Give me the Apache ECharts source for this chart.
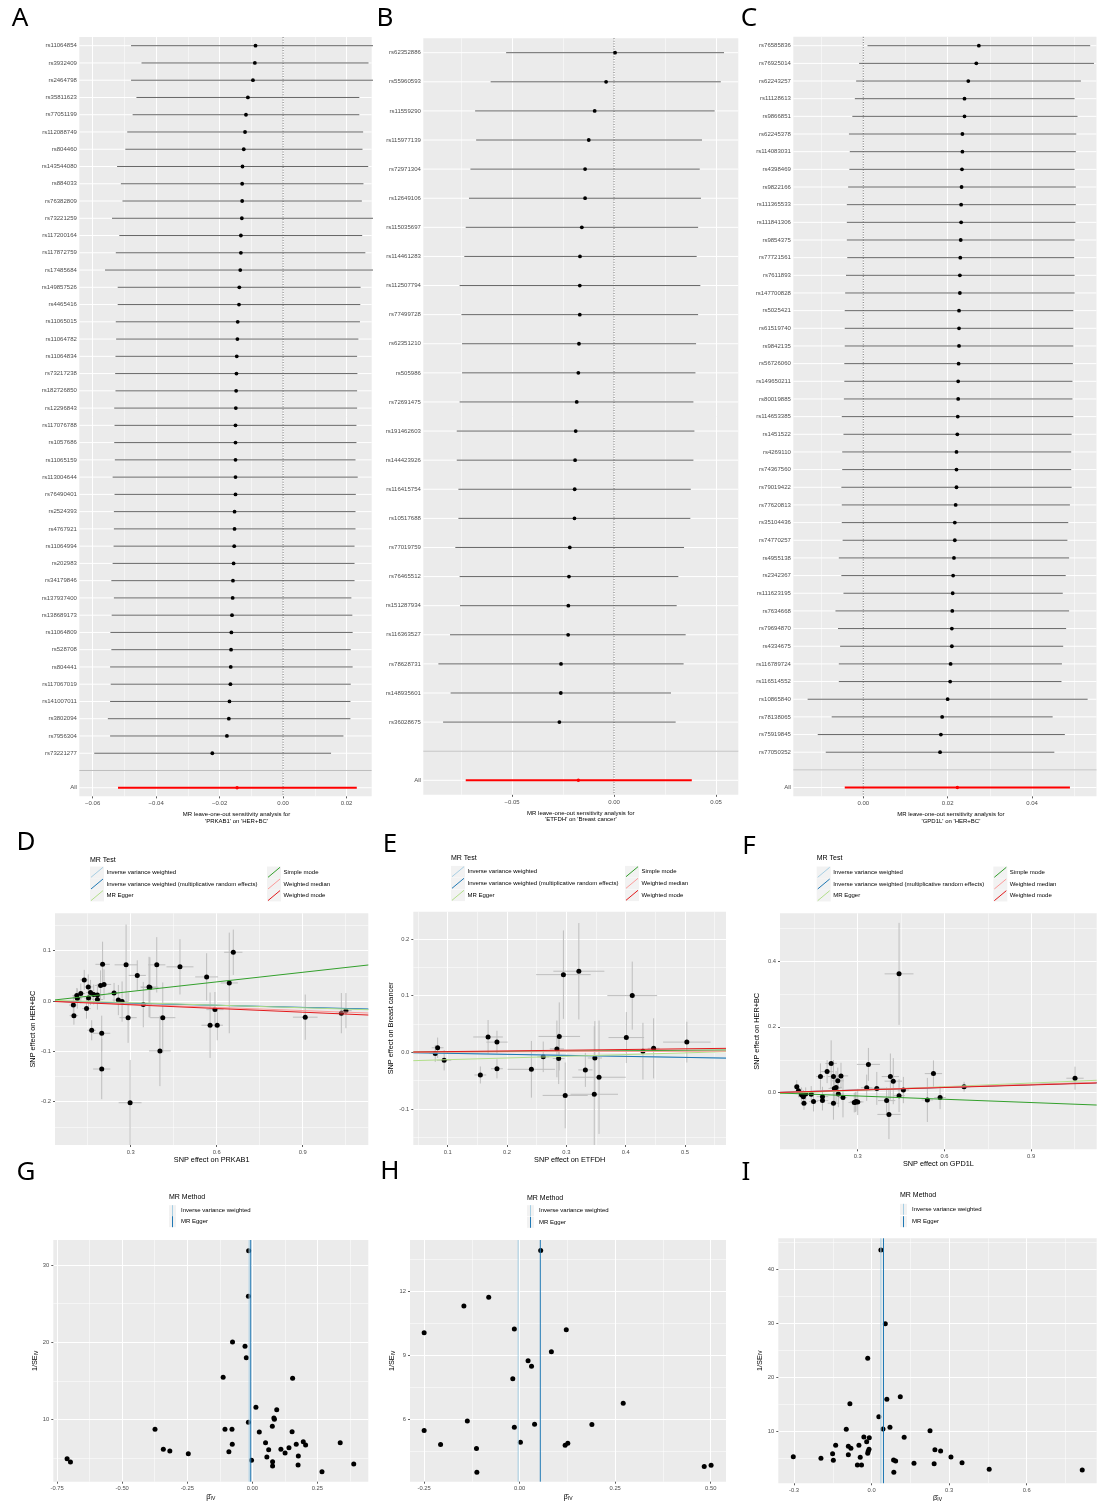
<!DOCTYPE html>
<html><head><meta charset="utf-8">
<script src="https://cdn.jsdelivr.net/npm/echarts@6/dist/echarts.min.js"></script>
<style>html,body{margin:0;padding:0;background:#fff}#c{width:1097px;height:1501px}</style>
</head><body><div id="c"></div>
<script>
// ---------------- DATA ----------------
const A_snps = ['rs11064854','rs3932409','rs2464798','rs35811623','rs77051199','rs112088749','rs804460','rs143544080','rs884033','rs76382809','rs73221259','rs117200164','rs117872759','rs17485684','rs149857526','rs4465416','rs11065015','rs11064782','rs11064834','rs73217238','rs182726850','rs12296843','rs117076788','rs1057686','rs11065159','rs113004644','rs76490401','rs2524393','rs4767921','rs11064994','rs202983','rs34179846','rs137937400','rs138689173','rs11064809','rs528708','rs804441','rs117067019','rs141007011','rs3802094','rs7956304','rs73221277'];
const A_b  = [-0.0087,-0.0089,-0.0095,-0.0111,-0.0117,-0.0120,-0.0124,-0.0128,-0.0129,-0.0129,-0.0130,-0.0133,-0.0133,-0.0135,-0.0138,-0.0139,-0.0143,-0.0144,-0.0146,-0.0147,-0.0148,-0.0149,-0.0150,-0.0150,-0.0150,-0.0150,-0.0150,-0.0153,-0.0153,-0.0154,-0.0156,-0.0158,-0.0159,-0.0161,-0.0163,-0.0164,-0.0165,-0.0166,-0.0169,-0.0171,-0.0177,-0.0223];
const A_lo = [-0.0479,-0.0446,-0.0479,-0.0462,-0.0474,-0.0491,-0.0497,-0.0523,-0.0511,-0.0506,-0.0539,-0.0516,-0.0527,-0.0561,-0.0521,-0.0521,-0.0527,-0.0526,-0.0528,-0.0529,-0.0528,-0.0532,-0.0531,-0.0532,-0.0530,-0.0537,-0.0531,-0.0533,-0.0533,-0.0534,-0.0537,-0.0541,-0.0533,-0.0540,-0.0544,-0.0541,-0.0545,-0.0543,-0.0545,-0.0552,-0.0545,-0.0595];
const A_up = [0.0290,0.0269,0.0290,0.0240,0.0240,0.0252,0.0250,0.0268,0.0253,0.0248,0.0290,0.0249,0.0259,0.0295,0.0244,0.0243,0.0242,0.0237,0.0233,0.0234,0.0233,0.0233,0.0231,0.0231,0.0228,0.0235,0.0229,0.0228,0.0228,0.0225,0.0225,0.0225,0.0215,0.0218,0.0219,0.0213,0.0219,0.0213,0.0212,0.0212,0.0190,0.0151];
const A_all = [-0.0145,-0.0520,0.0232];
const A_xticks = [-0.06,-0.04,-0.02,0,0.02];

const B_snps = ['rs62352886','rs55960593','rs11559290','rs115977139','rs72971304','rs12649106','rs115035697','rs114461283','rs112507794','rs77499728','rs62351210','rs505986','rs72691475','rs191462603','rs144423926','rs116415754','rs10517688','rs77019759','rs76465512','rs151287934','rs116363527','rs78628731','rs148935601','rs36028675'];
const B_b  = [0.0005,-0.0039,-0.0095,-0.0124,-0.0142,-0.0142,-0.0158,-0.0167,-0.0168,-0.0168,-0.0172,-0.0175,-0.0183,-0.0188,-0.0191,-0.0193,-0.0194,-0.0217,-0.0221,-0.0224,-0.0225,-0.0260,-0.0261,-0.0268];
const B_lo = [-0.0529,-0.0605,-0.0681,-0.0676,-0.0704,-0.0711,-0.0727,-0.0734,-0.0757,-0.0748,-0.0745,-0.0745,-0.0757,-0.0771,-0.0771,-0.0763,-0.0763,-0.0778,-0.0757,-0.0755,-0.0804,-0.0861,-0.0801,-0.0838];
const B_up = [0.0539,0.0523,0.0493,0.0431,0.0420,0.0426,0.0412,0.0405,0.0423,0.0412,0.0402,0.0399,0.0389,0.0394,0.0389,0.0376,0.0374,0.0343,0.0315,0.0307,0.0351,0.0341,0.0279,0.0302];
const B_all = [-0.0175,-0.0727,0.0381];
const B_xticks = [-0.05,0,0.05];

const C_snps = ['rs76585836','rs76925014','rs62243257','rs11128613','rs9866851','rs62245378','rs114083031','rs4398469','rs9822166','rs111365533','rs111841306','rs9854375','rs77721561','rs7611893','rs147700828','rs5025421','rs61519740','rs9842135','rs56726060','rs149650211','rs80019885','rs114653385','rs1451522','rs4269110','rs74367560','rs79019422','rs77620813','rs35104436','rs74770257','rs4955138','rs2342367','rs111623195','rs7634668','rs79694870','rs4334675','rs116789724','rs116514552','rs10865840','rs78138065','rs75919845','rs77050352'];
const C_b  = [0.0274,0.0268,0.0249,0.0240,0.0240,0.0235,0.0235,0.0234,0.0233,0.0232,0.0232,0.0231,0.0230,0.0229,0.0229,0.0227,0.0227,0.0227,0.0226,0.0225,0.0225,0.0224,0.0223,0.0221,0.0221,0.0221,0.0219,0.0217,0.0217,0.0215,0.0213,0.0212,0.0211,0.0210,0.0210,0.0207,0.0206,0.0200,0.0187,0.0184,0.0182];
const C_lo = [0.0010,-0.0010,-0.0017,-0.0020,-0.0026,-0.0034,-0.0032,-0.0033,-0.0036,-0.0039,-0.0039,-0.0039,-0.0038,-0.0041,-0.0043,-0.0044,-0.0044,-0.0044,-0.0045,-0.0045,-0.0046,-0.0051,-0.0047,-0.0050,-0.0050,-0.0052,-0.0051,-0.0051,-0.0049,-0.0058,-0.0052,-0.0047,-0.0066,-0.0060,-0.0055,-0.0058,-0.0058,-0.0132,-0.0075,-0.0108,-0.0089];
const C_up = [0.0538,0.0547,0.0516,0.0501,0.0508,0.0505,0.0504,0.0501,0.0504,0.0504,0.0503,0.0501,0.0500,0.0501,0.0501,0.0498,0.0498,0.0498,0.0497,0.0496,0.0496,0.0498,0.0494,0.0493,0.0493,0.0494,0.0490,0.0486,0.0484,0.0488,0.0480,0.0473,0.0488,0.0481,0.0474,0.0471,0.0470,0.0532,0.0449,0.0478,0.0453];
const C_all = [0.0223,-0.0044,0.0490];
const C_xticks = [0,0.02,0.04];

const METHODS = ['Inverse variance weighted','Inverse variance weighted (multiplicative random effects)','MR Egger','Simple mode','Weighted median','Weighted mode'];
const METHOD_COLORS = ['#A6CEE3','#1F78B4','#B2DF8A','#33A02C','#FB9A99','#E31A1C'];

const D_bx = [0.100,0.102,0.112,0.114,0.126,0.138,0.146,0.152,0.153,0.160,0.164,0.171,0.184,0.184,0.195,0.199,0.199,0.202,0.207,0.242,0.257,0.270,0.284,0.291,0.298,0.323,0.344,0.364,0.367,0.391,0.402,0.412,0.472,0.565,0.577,0.594,0.602,0.644,0.658,0.909,1.035,1.051];
const D_by = [-0.008,-0.029,0.011,0.005,0.015,0.042,-0.015,0.028,0.006,0.017,-0.058,0.013,0.012,0.003,0.031,-0.064,-0.135,0.073,0.033,0.016,0.002,-0.001,0.072,-0.033,-0.202,0.051,-0.007,0.028,0.027,0.072,-0.099,-0.033,0.068,0.048,-0.048,-0.017,-0.048,0.036,0.097,-0.032,-0.024,-0.019];
const D_sx = [0.015,0.015,0.015,0.015,0.015,0.015,0.015,0.015,0.015,0.015,0.015,0.015,0.02,0.02,0.02,0.03,0.03,0.025,0.025,0.02,0.02,0.02,0.04,0.03,0.04,0.03,0.03,0.03,0.03,0.03,0.038,0.044,0.047,0.04,0.03,0.03,0.02,0.03,0.032,0.043,0.02,0.02];
const D_sy = [0.02,0.018,0.015,0.02,0.02,0.02,0.02,0.025,0.02,0.025,0.02,0.02,0.02,0.02,0.03,0.035,0.06,0.045,0.03,0.02,0.03,0.04,0.08,0.05,0.085,0.03,0.045,0.06,0.06,0.055,0.07,0.07,0.055,0.047,0.065,0.035,0.03,0.1,0.045,0.045,0.04,0.035];
const D_int = [0,0,0.002,0,0,0];
const D_slope = [-0.014,-0.014,-0.017,0.0635,-0.021,-0.0246];
const D_xticks = [0.3,0.6,0.9], D_yticks = [-0.2,-0.1,0,0.1];

const E_bx = [0.079,0.083,0.094,0.155,0.168,0.183,0.183,0.241,0.261,0.284,0.287,0.288,0.295,0.298,0.321,0.332,0.347,0.348,0.355,0.401,0.411,0.429,0.447,0.503];
const E_by = [-0.002,0.008,-0.014,-0.040,0.027,0.018,-0.029,-0.030,-0.008,0.006,-0.011,0.028,0.137,-0.076,0.143,-0.031,-0.074,-0.010,-0.044,0.026,0.100,0.002,0.007,0.018];
const E_sx = [0.01,0.01,0.012,0.01,0.025,0.018,0.01,0.04,0.01,0.012,0.01,0.035,0.046,0.038,0.043,0.012,0.04,0.012,0.045,0.03,0.042,0.01,0.01,0.04];
const E_sy = [0.015,0.018,0.018,0.015,0.03,0.02,0.017,0.05,0.027,0.05,0.045,0.06,0.078,0.058,0.085,0.03,0.12,0.065,0.1,0.045,0.06,0.05,0.053,0.036];
const E_int = [0,0,-0.016,0,0,0];
const E_slope = [-0.018,-0.018,0.03,0.007,0.0035,0.0123];
const E_xticks = [0.1,0.2,0.3,0.4,0.5], E_yticks = [-0.1,0,0.1,0.2];

const F_bx = [0.089,0.095,0.105,0.106,0.112,0.114,0.120,0.139,0.147,0.171,0.178,0.178,0.194,0.208,0.216,0.216,0.219,0.225,0.231,0.233,0.242,0.249,0.288,0.292,0.294,0.300,0.331,0.337,0.366,0.400,0.408,0.413,0.423,0.443,0.443,0.458,0.541,0.562,0.585,0.668,1.052];
const F_by = [0.018,0.006,-0.004,-0.007,-0.012,-0.032,-0.004,-0.005,-0.027,0.049,-0.012,-0.024,0.064,0.089,0.049,-0.032,0.013,0.016,0.036,-0.004,0.051,-0.015,-0.030,-0.029,-0.027,-0.028,0.015,0.086,0.013,-0.024,-0.066,0.049,0.035,0.361,-0.009,0.008,-0.022,0.058,-0.015,0.018,0.044];
const F_sx = [0.01,0.01,0.01,0.01,0.01,0.012,0.01,0.012,0.015,0.015,0.02,0.02,0.02,0.02,0.02,0.02,0.02,0.02,0.02,0.02,0.025,0.015,0.02,0.02,0.02,0.02,0.02,0.04,0.03,0.03,0.04,0.03,0.03,0.05,0.02,0.02,0.02,0.03,0.02,0.01,0.03];
const F_sy = [0.02,0.02,0.02,0.02,0.02,0.02,0.02,0.025,0.03,0.04,0.03,0.03,0.035,0.07,0.05,0.05,0.04,0.05,0.04,0.04,0.04,0.06,0.03,0.03,0.03,0.04,0.04,0.05,0.05,0.04,0.075,0.07,0.07,0.155,0.05,0.04,0.067,0.04,0.035,0.015,0.035];
const F_int = [0,0,-0.004,0,0,0];
const F_slope = [0.027,0.027,0.037,-0.0333,0.028,0.026];
const F_xticks = [0.3,0.6,0.9], F_yticks = [0,0.2,0.4];

const FUN_METHODS = ['Inverse variance weighted','MR Egger'];
const FUN_COLORS = ['#A6CEE3','#1F78B4'];
const G_b = [-0.712,-0.699,-0.374,-0.342,-0.317,-0.246,-0.112,-0.105,-0.090,-0.078,-0.077,-0.076,-0.028,-0.023,-0.015,-0.014,-0.015,-0.003,0.014,0.027,0.051,0.056,0.063,0.077,0.078,0.078,0.083,0.085,0.094,0.110,0.126,0.141,0.153,0.155,0.169,0.176,0.177,0.196,0.205,0.268,0.338,0.390];
const G_inv = [4.96,4.53,8.75,6.16,5.95,5.60,15.47,8.75,5.86,8.75,6.81,20.04,19.48,18.02,9.66,31.85,25.95,4.74,11.59,8.41,7.03,5.17,6.12,9.14,4.00,4.57,10.22,10.04,11.29,6.16,5.69,6.38,8.45,15.34,6.81,4.14,5.30,7.16,6.72,3.28,7.03,4.27];
const G_vline = [-0.012,-0.006];
const G_xticks = [-0.75,-0.5,-0.25,0,0.25], G_yticks = [10,20,30];

const H_b = [-0.250,-0.250,-0.207,-0.146,-0.137,-0.113,-0.112,-0.081,-0.018,-0.014,-0.014,0.002,0.022,0.031,0.039,0.055,0.083,0.119,0.126,0.122,0.189,0.271,0.483,0.501];
const H_inv = [10.04,5.47,4.82,11.30,5.92,4.63,3.52,11.70,7.89,10.22,5.63,4.92,8.74,8.48,5.77,13.89,9.16,4.78,4.88,10.18,5.75,6.75,3.79,3.85];
const H_vline = [-0.004,0.054];
const H_xticks = [-0.25,0,0.25,0.5], H_yticks = [6,9,12];

const I_b = [-0.303,-0.196,-0.151,-0.148,-0.139,-0.098,-0.090,-0.090,-0.084,-0.080,-0.055,-0.049,-0.044,-0.039,-0.030,-0.019,-0.015,-0.015,-0.013,-0.010,-0.009,0.028,0.036,0.044,0.053,0.059,0.071,0.085,0.093,0.086,0.111,0.126,0.164,0.226,0.242,0.245,0.267,0.307,0.350,0.455,0.815];
const I_inv = [5.24,4.93,5.79,4.56,7.34,10.31,7.16,5.61,15.07,6.78,3.69,7.34,5.11,3.69,8.89,8.02,5.86,23.48,6.23,6.60,8.76,12.66,43.58,10.37,29.91,15.88,10.68,4.62,4.43,2.33,16.37,8.82,4.00,10.06,3.94,6.54,6.29,5.18,4.12,2.89,2.76];
const I_vline = [0.036,0.046];
const I_xticks = [-0.3,0,0.3,0.6], I_yticks = [10,20,30,40];

const REF_X = 0;

// ---------------- BUILD ----------------
const FONT = '"Liberation Sans", Arial, sans-serif';
const grids = [], xAxes = [], yAxes = [], series = [], graphics = [];

function addGrid(r) {
  grids.push({left: r[0], top: r[1], width: r[2] - r[0], height: r[3] - r[1], show: true,
    backgroundColor: '#EBEBEB', borderWidth: 0, containLabel: false, outerBoundsMode: 'none'});
  return grids.length - 1;
}
function fmtTick(ticks, dec, minus) {
  return function (v) {
    const t = ticks.find(t => Math.abs(t - v) < 1e-9);
    if (t === undefined) return '';
    return (t < -1e-12 ? minus : '') + Math.abs(t).toFixed(dec);
  };
}
function valAxis(gi, min, max, iv, ticks, dec, minus, fs, extra) {
  return Object.assign({
    type: 'value', gridIndex: gi, min: min, max: max, minInterval: iv, maxInterval: iv,
    axisLine: {show: false, onZero: false},
    axisTick: {show: true, length: 2, lineStyle: {color: '#333', width: 0.8}, customValues: ticks},
    axisLabel: {customValues: ticks, fontSize: fs, color: '#4D4D4D', margin: 4, fontFamily: FONT,
      formatter: fmtTick(ticks, dec, minus)},
    splitLine: {show: true, lineStyle: {color: '#FFFFFF', width: 1}},
    minorTick: {show: false, splitNumber: 2},
    minorSplitLine: {show: true, lineStyle: {color: '#FFFFFF', width: 0.5}}
  }, extra || {});
}
function txt(x, y, text, size, color, align, family, rot) {
  return {type: 'text', x: x, y: y, rotation: rot || 0, silent: true,
    style: {text: text, fontSize: size, fontFamily: family || FONT, fill: color, align: align, verticalAlign: 'middle'}};
}

function forestRender(params, api) {
  const b = api.value(0), r = api.value(1), lo = api.value(2), up = api.value(3), flag = api.value(4);
  const pc = api.coord([b, r]), pl = api.coord([lo, r]), pu = api.coord([up, r]);
  const red = flag === 1;
  return {type: 'group', children: [
    {type: 'line', shape: {x1: pl[0], y1: pc[1], x2: pu[0], y2: pc[1]},
      style: {stroke: red ? '#FF0000' : '#555555', lineWidth: red ? 2 : 0.9}},
    {type: 'circle', shape: {cx: pc[0], cy: pc[1], r: red ? 1.7 : 1.9}, style: {fill: red ? '#FF0000' : '#000000'}}
  ]};
}

function forest(rect, snps, b, lo, up, all, xr, iv, ticks, title, shift, gap) {
  const gi = addGrid(rect);
  const cats = snps.concat(['', 'All']);
  xAxes.push(valAxis(gi, xr[0], xr[1], iv, ticks, 2, '\u2212', 6, {
    name: title, nameLocation: 'middle', nameGap: gap,
    nameTextStyle: {fontSize: 6, color: '#000', fontFamily: FONT, lineHeight: 6.5, padding: [0, 0, 0, shift]}
  }));
  yAxes.push({type: 'category', gridIndex: gi, data: cats, inverse: true,
    axisLine: {show: false, onZero: false}, axisTick: {show: false}, splitLine: {show: false},
    axisLabel: {interval: 0, fontSize: 6, color: '#4D4D4D', margin: 2.5, fontFamily: FONT}});
  const ax = xAxes.length - 1;
  // horizontal major gridlines at each row
  series.push({type: 'custom', xAxisIndex: ax, yAxisIndex: ax, z: 1, silent: true, clip: true,
    data: cats.map((c, i) => [REF_X, i]), encode: {x: 0, y: 1},
    renderItem: function (p, api) {
      const cs = p.coordSys; const y = api.coord([api.value(0), api.value(1)])[1];
      return {type: 'line', shape: {x1: cs.x, y1: y, x2: cs.x + cs.width, y2: y}, style: {stroke: '#FFFFFF', lineWidth: 1}};
    }});
  // dotted zero line
  series.push({type: 'custom', xAxisIndex: ax, yAxisIndex: ax, z: 2, silent: true,
    data: [[REF_X, 0]], encode: {x: 0, y: 1},
    renderItem: function (p, api) {
      const cs = p.coordSys; const x = api.coord([api.value(0), 0])[0];
      return {type: 'line', shape: {x1: x, y1: cs.y, x2: x, y2: cs.y + cs.height},
        style: {stroke: '#444', lineWidth: 0.8, lineDash: [1, 1.6]}};
    }});
  // error bars + points
  const rows = snps.map((s, i) => [b[i], i, lo[i], up[i], 0]);
  rows.push([all[0], snps.length + 1, all[1], all[2], 1]);
  series.push({type: 'custom', xAxisIndex: ax, yAxisIndex: ax, z: 3, silent: true, clip: true,
    data: rows, encode: {x: [0, 2, 3], y: 1}, renderItem: forestRender});
  // grey separator at blank row
  series.push({type: 'custom', xAxisIndex: ax, yAxisIndex: ax, z: 4, silent: true,
    data: [[REF_X, snps.length]], encode: {x: 0, y: 1},
    renderItem: function (p, api) {
      const cs = p.coordSys; const y = api.coord([api.value(0), api.value(1)])[1];
      return {type: 'line', shape: {x1: cs.x, y1: y, x2: cs.x + cs.width, y2: y}, style: {stroke: '#BEBEBE', lineWidth: 1}};
    }});
}

function errRender(params, api) {
  const x = api.value(0), y = api.value(1), sx = api.value(2), sy = api.value(3);
  const a = api.coord([x, y - sy]), b = api.coord([x, y + sy]), c = api.coord([x - sx, y]), d = api.coord([x + sx, y]);
  return {type: 'group', children: [
    {type: 'line', shape: {x1: a[0], y1: a[1], x2: b[0], y2: b[1]}, style: {stroke: '#BEBEBE', lineWidth: 1}},
    {type: 'line', shape: {x1: c[0], y1: c[1], x2: d[0], y2: d[1]}, style: {stroke: '#BEBEBE', lineWidth: 1}}
  ]};
}

function scatterPanel(rect, bx, by, sx, sy, ints, slopes, xr, yr, xiv, yiv, xt, yt, xname, yname, xgap, ygap) {
  const gi = addGrid(rect);
  xAxes.push(valAxis(gi, xr[0], xr[1], xiv, xt, 1, '-', 5.8, {
    name: xname, nameLocation: 'middle', nameGap: xgap,
    nameTextStyle: {fontSize: 7.3, color: '#000', fontFamily: FONT}}));
  yAxes.push(valAxis(gi, yr[0], yr[1], yiv, yt, 1, '-', 5.8, {
    name: yname, nameLocation: 'middle', nameGap: ygap,
    nameTextStyle: {fontSize: 7.3, color: '#000', fontFamily: FONT}}));
  const ax = xAxes.length - 1;
  series.push({type: 'custom', xAxisIndex: ax, yAxisIndex: ax, z: 2, silent: true, clip: true,
    data: bx.map((x, i) => [x, by[i], sx[i], sy[i]]), encode: {x: 0, y: 1}, renderItem: errRender});
  series.push({type: 'scatter', xAxisIndex: ax, yAxisIndex: ax, z: 3, silent: true,
    data: bx.map((x, i) => [x, by[i]]), symbolSize: 5, itemStyle: {color: '#000', opacity: 1}});
  METHODS.forEach((m, k) => {
    series.push({type: 'line', name: m, xAxisIndex: ax, yAxisIndex: ax, z: 4, silent: true, clip: true,
      showSymbol: false, symbol: 'none',
      data: [[xr[0], ints[k] + slopes[k] * xr[0]], [xr[1], ints[k] + slopes[k] * xr[1]]],
      lineStyle: {color: METHOD_COLORS[k], width: 1}, itemStyle: {color: METHOD_COLORS[k]}});
  });
}

function funnelPanel(rect, b, inv, vl, xr, yr, xiv, yiv, xt, yt, xdec, xgap, ygap) {
  const gi = addGrid(rect);
  const rich = {sub: {fontSize: 5, fontFamily: FONT, color: '#000', verticalAlign: 'bottom', padding: [3, 0, 0, 0]}};
  xAxes.push(valAxis(gi, xr[0], xr[1], xiv, xt, xdec, '-', 5.8, {
    name: '\u03B2\u0302{sub|IV}', nameLocation: 'middle', nameGap: xgap,
    nameTextStyle: {fontSize: 7.3, color: '#000', fontFamily: FONT, rich: rich}}));
  yAxes.push(valAxis(gi, yr[0], yr[1], yiv, yt, 0, '-', 5.8, {
    name: '1/SE{sub|IV}', nameLocation: 'middle', nameGap: ygap,
    nameTextStyle: {fontSize: 7.3, color: '#000', fontFamily: FONT, rich: rich}}));
  const ax = xAxes.length - 1;
  series.push({type: 'scatter', xAxisIndex: ax, yAxisIndex: ax, z: 3, silent: true,
    data: b.map((x, i) => [x, inv[i]]), symbolSize: 5, itemStyle: {color: '#000', opacity: 1}});
  FUN_METHODS.forEach((m, k) => {
    series.push({type: 'line', name: m, xAxisIndex: ax, yAxisIndex: ax, z: 4, silent: true, clip: true,
      showSymbol: false, symbol: 'none', data: [[vl[k], yr[0]], [vl[k], yr[1]]],
      lineStyle: {color: FUN_COLORS[k], width: 1}, itemStyle: {color: FUN_COLORS[k]}});
  });
}

function mrTestLegend(L) {
  graphics.push(txt(L.x, L.ty, 'MR Test', 7, '#000', 'left'));
  METHODS.forEach((m, k) => {
    const col = Math.floor(k / 3), row = k % 3;
    const kx = L.x + col * L.c2, ky = L.rows[row];
    graphics.push({type: 'rect', silent: true, shape: {x: kx, y: ky - 5.8, width: 14, height: 11.6}, style: {fill: '#F2F2F2'}});
    graphics.push({type: 'line', silent: true, shape: {x1: kx + 1, y1: ky + 5, x2: kx + 13, y2: ky - 5},
      style: {stroke: METHOD_COLORS[k], lineWidth: 1}});
    graphics.push(txt(kx + 16.5, ky, m, 6, '#000', 'left'));
  });
}
function mrMethodLegend(L) {
  graphics.push(txt(L.x, L.ty, 'MR Method', 7, '#000', 'left'));
  FUN_METHODS.forEach((m, k) => {
    const ky = L.rows[k];
    graphics.push({type: 'rect', silent: true, shape: {x: L.x, y: ky - 5.5, width: 7, height: 11}, style: {fill: '#F2F2F2'}});
    graphics.push({type: 'line', silent: true, shape: {x1: L.x + 3.5, y1: ky - 5.5, x2: L.x + 3.5, y2: ky + 5.5},
      style: {stroke: FUN_COLORS[k], lineWidth: 1}});
    graphics.push(txt(L.x + 12, ky, m, 6, '#000', 'left'));
  });
}

// Forest plots
forest([79.3, 37.07, 371.7, 796.37], A_snps, A_b, A_lo, A_up, A_all, [-0.0642, 0.0279], 0.02, A_xticks,
  "MR leave-one-out sensitivity analysis for\n'PRKAB1' on 'HER+BC'", 22, 12.6);
forest([423.3, 38.15, 738.3, 794.85], B_snps, B_b, B_lo, B_up, B_all, [-0.0935, 0.0609], 0.05, B_xticks,
  "MR leave-one-out sensitivity analysis for\n'ETFDH' on 'Breast cancer'", 0, 14.2);
forest([793.3, 36.87, 1096.5, 796.37], C_snps, C_b, C_lo, C_up, C_all, [-0.0166, 0.0553], 0.02, C_xticks,
  "MR leave-one-out sensitivity analysis for\n'GPD1L' on 'HER+BC'", 12, 12.6);

// Scatter plots
scatterPanel([55, 913.3, 368.3, 1145], D_bx, D_by, D_sx, D_sy, D_int, D_slope, [0.036, 1.129], [-0.286, 0.1744],
  0.3, 0.1, D_xticks, D_yticks, 'SNP effect on PRKAB1', 'SNP effect on HER+BC', 11.4, 18.3);
scatterPanel([413.3, 911.7, 726, 1145], E_bx, E_by, E_sx, E_sy, E_int, E_slope, [0.042, 0.569], [-0.1635, 0.248],
  0.1, 0.1, E_xticks, E_yticks, 'SNP effect on ETFDH', 'SNP effect on Breast cancer', 11.4, 19);
scatterPanel([780, 913.3, 1096.7, 1149.3], F_bx, F_by, F_sx, F_sy, F_int, F_slope, [0.031, 1.127], [-0.172, 0.545],
  0.3, 0.2, F_xticks, F_yticks, 'SNP effect on GPD1L', 'SNP effect on HER+BC', 10, 19.6);

// Funnel plots
funnelPanel([53.3, 1240, 368.3, 1481.7], G_b, G_inv, G_vline, [-0.765, 0.446], [1.98, 33.23], 0.25, 10, G_xticks, G_yticks, 2, 11, 13);
funnelPanel([410, 1240, 726, 1481.7], H_b, H_inv, H_vline, [-0.287, 0.540], [3.08, 14.38], 0.25, 3, H_xticks, H_yticks, 2, 11, 11.5);
funnelPanel([778.3, 1238.3, 1096.7, 1483.3], I_b, I_inv, I_vline, [-0.361, 0.871], [0.3, 45.75], 0.3, 10, I_xticks, I_yticks, 1, 11, 14.8);

// Legends
mrTestLegend({x: 90, ty: 860, rows: [872.3, 884, 895.6], c2: 177});
mrTestLegend({x: 451, ty: 858.3, rows: [871.7, 883.3, 895.3], c2: 174});
mrTestLegend({x: 816.7, ty: 858.3, rows: [872.3, 884, 895.7], c2: 176.6});
mrMethodLegend({x: 169, ty: 1197.3, rows: [1210.7, 1221.7]});
mrMethodLegend({x: 527, ty: 1198.3, rows: [1210.7, 1222.3]});
mrMethodLegend({x: 900, ty: 1195, rows: [1209.3, 1221.7]});

// Panel letters
const LETTERS = [['A', 20, 19], ['B', 385, 19], ['C', 749, 19], ['D', 26, 843], ['E', 390, 845], ['F', 749, 847],
  ['G', 26, 1173], ['H', 390, 1172], ['I', 746, 1173]];
LETTERS.forEach(l => graphics.push(txt(l[1], l[2], l[0], 26, '#000', 'center', '"Noto Sans", "DejaVu Sans", sans-serif')));

const chart = echarts.init(document.getElementById('c'), null, {renderer: 'canvas', width: 1097, height: 1501});
chart.setOption({
  animation: false,
  backgroundColor: '#FFFFFF',
  grid: grids, xAxis: xAxes, yAxis: yAxes, series: series,
  graphic: {elements: graphics}
});
</script></body></html>
